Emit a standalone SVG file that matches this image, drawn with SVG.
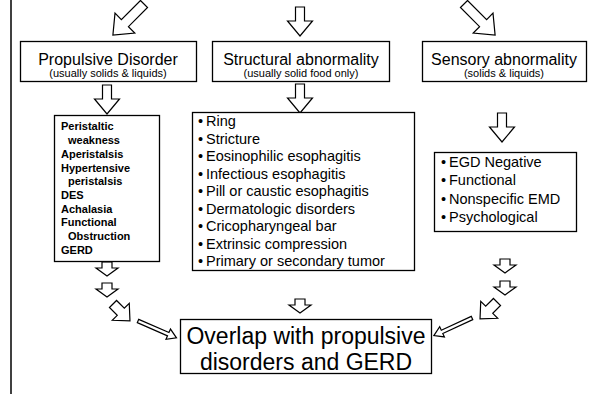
<svg xmlns="http://www.w3.org/2000/svg" width="595" height="394" viewBox="0 0 595 394">
<defs>
<style>
.box{fill:#fff;stroke:#000;stroke-width:1.3}
.arr{fill:#fff;stroke:#000;stroke-width:1.2;stroke-linejoin:miter}
text{font-family:"Liberation Sans",Arial,sans-serif;fill:#000}
.t{font-size:16px;text-anchor:middle}
.s{font-size:11px;text-anchor:middle}
.b{font-size:11px;font-weight:bold}
.l{font-size:14.5px}
.o{font-size:23px;text-anchor:middle}
</style>
<path id="big" d="M-5,0 h10 v27 h9 l-14,17 l-14,-17 h9 z"/>
<path id="mid" d="M-4.5,0 h9 v14 h8 l-12.5,15 l-12.5,-15 h8 z"/>
<path id="sm" d="M-5,0 h10 v6 h6 l-11,8 l-11,-8 h6 z"/>
<path id="dg" d="M-5,0 h10 v11 h7 l-12,13 l-12,-13 h7 z"/>
<path id="thin" d="M-1.8,0 h3.6 v33 h3.8 l-5.6,9 l-5.6,-9 h3.8 z"/>
</defs>
<rect width="595" height="394" fill="#fff"/>
<line x1="11" y1="0" x2="11" y2="394" stroke="#000" stroke-width="1.5"/>
<g id="connectors">
<use href="#big" class="arr" transform="translate(144,4) rotate(45)"/>
<use href="#mid" class="arr" transform="translate(300,7)"/>
<use href="#big" class="arr" transform="translate(464,4) rotate(-45)"/>
<use href="#mid" class="arr" transform="translate(107,85)"/>
<use href="#mid" class="arr" transform="translate(300,84)"/>
<use href="#mid" class="arr" transform="translate(502,113)"/>
<use href="#sm" class="arr" transform="translate(107,262)"/>
<use href="#sm" class="arr" transform="translate(107,283)"/>
<use href="#dg" class="arr" transform="translate(113,304) rotate(-45)"/>
<use href="#sm" class="arr" transform="translate(300,299)"/>
<use href="#sm" class="arr" transform="translate(505,259)"/>
<use href="#sm" class="arr" transform="translate(505,281)"/>
<use href="#dg" class="arr" transform="translate(497,302) rotate(45)"/>
<use href="#thin" class="arr" transform="translate(138,321) rotate(-66.4)"/>
<use href="#thin" class="arr" transform="translate(472,318) rotate(65.2)"/>
</g>
<g id="propulsive">
<rect class="box" x="20.5" y="41.5" width="176" height="40"/>
<text class="t" x="108" y="65">Propulsive Disorder</text>
<text class="s" x="108" y="77">(usually solids &amp; liquids)</text>
</g>
<g id="structural">
<rect class="box" x="212.5" y="41.5" width="177" height="40"/>
<text class="t" x="301" y="65">Structural abnormality</text>
<text class="s" x="301" y="77">(usually solid food only)</text>
</g>
<g id="sensory">
<rect class="box" x="422.5" y="41.5" width="164" height="40"/>
<text class="t" x="504" y="65">Sensory abnormality</text>
<text class="s" x="504" y="77">(solids &amp; liquids)</text>
</g>
<g id="propulsive-list">
<rect class="box" x="54.5" y="115.5" width="105" height="146"/>
<text class="b" x="61" y="130">Peristaltic</text>
<text class="b" x="68" y="144">weakness</text>
<text class="b" x="61" y="158">Aperistalsis</text>
<text class="b" x="61" y="172">Hypertensive</text>
<text class="b" x="68" y="185">peristalsis</text>
<text class="b" x="61" y="199">DES</text>
<text class="b" x="61" y="213">Achalasia</text>
<text class="b" x="61" y="226">Functional</text>
<text class="b" x="68" y="240">Obstruction</text>
<text class="b" x="61" y="254">GERD</text>
</g>
<g id="structural-list">
<rect class="box" x="192.5" y="112.5" width="222" height="158"/>
<g class="l">
<text x="198" y="126">•</text><text x="206" y="126">Ring</text>
<text x="198" y="143.5">•</text><text x="206" y="143.5">Stricture</text>
<text x="198" y="161">•</text><text x="206" y="161">Eosinophilic esophagitis</text>
<text x="198" y="178.5">•</text><text x="206" y="178.5">Infectious esophagitis</text>
<text x="198" y="196">•</text><text x="206" y="196">Pill or caustic esophagitis</text>
<text x="198" y="213.5">•</text><text x="206" y="213.5">Dermatologic disorders</text>
<text x="198" y="231">•</text><text x="206" y="231">Cricopharyngeal bar</text>
<text x="198" y="248.5">•</text><text x="206" y="248.5">Extrinsic compression</text>
<text x="198" y="266">•</text><text x="206" y="266">Primary or secondary tumor</text>
</g>
</g>
<g id="sensory-list">
<rect class="box" x="434.5" y="152.5" width="142" height="79"/>
<g class="l">
<text x="441" y="167">•</text><text x="449" y="167">EGD Negative</text>
<text x="441" y="185">•</text><text x="449" y="185">Functional</text>
<text x="441" y="204">•</text><text x="449" y="204">Nonspecific EMD</text>
<text x="441" y="222">•</text><text x="449" y="222">Psychological</text>
</g>
</g>
<g id="overlap">
<rect class="box" x="180.5" y="319.5" width="251" height="54"/>
<text class="o" x="306" y="344">Overlap with propulsive</text>
<text class="o" x="306" y="370">disorders and GERD</text>
</g>
</svg>
